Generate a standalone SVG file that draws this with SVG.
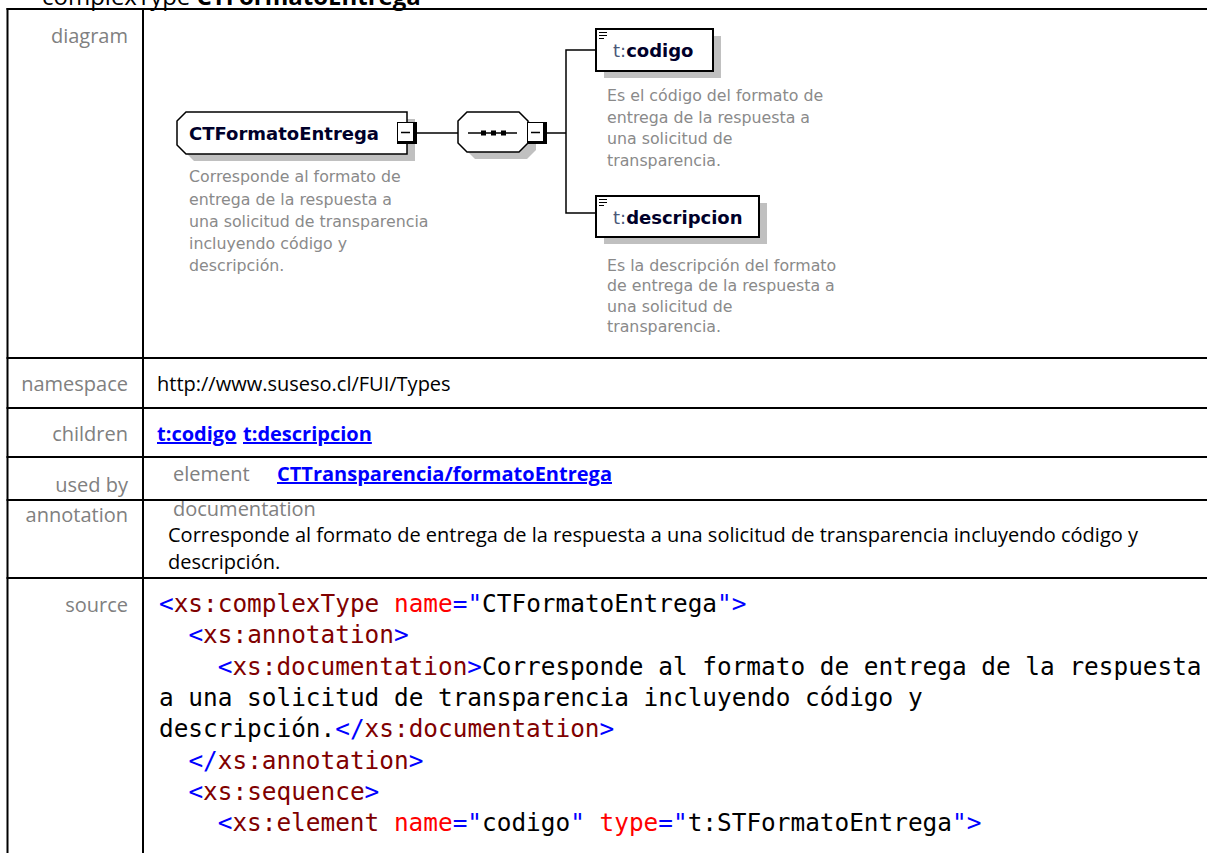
<svg xmlns="http://www.w3.org/2000/svg" width="1207" height="853" viewBox="0 0 1207 853">
<style>
.lbl{font-family:"Open Sans","Liberation Sans",sans-serif;font-size:20px;fill:#808080;text-anchor:end}
.val{font-family:"Open Sans","Liberation Sans",sans-serif;font-size:20px;fill:#000}
.sub{font-family:"Open Sans","Liberation Sans",sans-serif;font-size:20px;fill:#808080}
.lnk{font-family:"Open Sans","Liberation Sans",sans-serif;font-size:20px;font-weight:bold;fill:#0000ff;text-decoration:underline}
.grid{stroke:#000;stroke-width:2;fill:none}
.code{font-family:"DejaVu Sans Mono","Liberation Mono",monospace;font-size:24.4px;fill:#000}
.b{fill:#0000ff}.en{fill:#800000}.an{fill:#ff0000}
.nm{font-family:"DejaVu Sans",sans-serif;font-size:18px;font-weight:bold;fill:#00002a}
.pf{font-weight:normal;fill:#4b5878}
.doc{font-family:"DejaVu Sans",sans-serif;font-size:15.8px;fill:#8a8a8a}
.shadow{fill:#c0c0c0}
.box{fill:#fff;stroke:#000;stroke-width:1.5}
.ebox{fill:#fff;stroke:#000;stroke-width:2}
.conn{stroke:#000;stroke-width:1.5;fill:none}
.title{font-family:"Open Sans","Liberation Sans",sans-serif;font-size:24px;fill:#000}
</style>
<defs>
<g id="minus">
<rect x="0" y="0" width="20" height="22" fill="#000"/>
<rect x="1" y="1" width="15" height="18" fill="#fff"/>
<line x1="4" y1="10.5" x2="13" y2="10.5" stroke="#000" stroke-width="1.5"/>
</g>
<g id="elicon" stroke="#000" stroke-width="1">
<line x1="0" y1="0.5" x2="8" y2="0.5"/>
<line x1="0" y1="3.5" x2="8" y2="3.5"/>
<line x1="0" y1="6.5" x2="5" y2="6.5"/>
</g>
</defs>

<text class="title" x="42" y="5">complexType <tspan font-weight="bold">CTFormatoEntrega</tspan></text>

<g id="table">
<line class="grid" x1="6.5" y1="9" x2="1207" y2="9"/>
<line class="grid" x1="7.5" y1="8" x2="7.5" y2="853"/>
<line class="grid" x1="143" y1="8" x2="143" y2="853"/>
<line class="grid" x1="6.5" y1="358" x2="1207" y2="358"/>
<line class="grid" x1="6.5" y1="408" x2="1207" y2="408"/>
<line class="grid" x1="6.5" y1="457" x2="1207" y2="457"/>
<line class="grid" x1="6.5" y1="500" x2="1207" y2="500"/>
<line class="grid" x1="6.5" y1="578" x2="1207" y2="578"/>
</g>

<g id="labels">
<text class="lbl" x="128" y="43">diagram</text>
<text class="lbl" x="128" y="391">namespace</text>
<text class="lbl" x="128" y="441">children</text>
<text class="lbl" x="128" y="492">used by</text>
<text class="lbl" x="128" y="522">annotation</text>
<text class="lbl" x="128" y="612">source</text>
</g>

<g id="values">
<text class="val" x="157" y="391">http://www.suseso.cl/FUI/Types</text>
<text class="lnk" x="157" y="441">t:codigo</text>
<text class="lnk" x="243" y="441">t:descripcion</text>
<text class="sub" x="173" y="481">element</text>
<text class="lnk" x="277" y="481">CTTransparencia/formatoEntrega</text>
<text class="sub" x="173" y="516">documentation</text>
<text class="val" x="168" y="542">Corresponde al formato de entrega de la respuesta a una solicitud de transparencia incluyendo código y</text>
<text class="val" x="168" y="569">descripción.</text>
</g>

<g id="source">
<text class="code" x="159" y="612" xml:space="preserve"><tspan class="b">&lt;</tspan><tspan class="en">xs:complexType</tspan> <tspan class="an">name</tspan><tspan class="b">="</tspan>CTFormatoEntrega<tspan class="b">"&gt;</tspan></text>
<text class="code" x="188.4" y="643.3" xml:space="preserve"><tspan class="b">&lt;</tspan><tspan class="en">xs:annotation</tspan><tspan class="b">&gt;</tspan></text>
<text class="code" x="217.7" y="674.6" xml:space="preserve"><tspan class="b">&lt;</tspan><tspan class="en">xs:documentation</tspan><tspan class="b">&gt;</tspan>Corresponde al formato de entrega de la respuesta</text>
<text class="code" x="159" y="705.9" xml:space="preserve">a una solicitud de transparencia incluyendo código y</text>
<text class="code" x="159" y="737.2" xml:space="preserve">descripción.<tspan class="b">&lt;/</tspan><tspan class="en">xs:documentation</tspan><tspan class="b">&gt;</tspan></text>
<text class="code" x="188.4" y="768.5" xml:space="preserve"><tspan class="b">&lt;/</tspan><tspan class="en">xs:annotation</tspan><tspan class="b">&gt;</tspan></text>
<text class="code" x="188.4" y="799.8" xml:space="preserve"><tspan class="b">&lt;</tspan><tspan class="en">xs:sequence</tspan><tspan class="b">&gt;</tspan></text>
<text class="code" x="217.7" y="831.1" xml:space="preserve"><tspan class="b">&lt;</tspan><tspan class="en">xs:element</tspan> <tspan class="an">name</tspan><tspan class="b">="</tspan>codigo<tspan class="b">"</tspan> <tspan class="an">type</tspan><tspan class="b">="</tspan>t:STFormatoEntrega<tspan class="b">"&gt;</tspan></text>
</g>

<g id="connectors">
<line class="conn" x1="417" y1="133" x2="458" y2="133"/>
<line class="conn" x1="547" y1="133" x2="566" y2="133"/>
<polyline class="conn" points="596,50 566,50 566,213 596,213"/>
</g>

<g id="node-CTFormatoEntrega">
<path class="shadow" d="M185,128 L194,119 L415,119 L415,161 L194,161 L185,152 Z"/>
<path class="box" d="M177,121 L186,112 L407,112 L407,154 L186,154 L177,145 Z"/>
<text class="nm" x="189" y="140">CTFormatoEntrega</text>
<use href="#minus" x="397" y="122"/>
<text class="doc" x="189" y="182">Corresponde al formato de</text>
<text class="doc" x="189" y="204.5">entrega de la respuesta a</text>
<text class="doc" x="189" y="227">una solicitud de transparencia</text>
<text class="doc" x="189" y="249">incluyendo código y</text>
<text class="doc" x="189" y="271">descripción.</text>
</g>

<g id="node-sequence">
<path class="shadow" d="M466,128 L475,119 L527,119 L536,128 L536,150 L527,159 L475,159 L466,150 Z"/>
<path class="box" d="M458,121 L467,112 L519,112 L528,121 L528,143 L519,152 L467,152 L458,143 Z"/>
<line x1="468" y1="133" x2="517" y2="133" stroke="#000" stroke-width="1.5"/>
<rect x="481" y="130.5" width="5" height="5" fill="#000"/>
<rect x="491" y="130.5" width="5" height="5" fill="#000"/>
<rect x="501" y="130.5" width="5" height="5" fill="#000"/>
<use href="#minus" x="527" y="122"/>
</g>

<g id="node-codigo">
<rect class="shadow" x="604" y="36" width="117" height="42"/>
<rect class="ebox" x="596" y="29" width="117" height="42"/>
<use href="#elicon" x="599" y="32"/>
<text class="nm" x="613" y="57"><tspan class="pf">t:</tspan>codigo</text>
<text class="doc" x="607" y="101">Es el código del formato de</text>
<text class="doc" x="607" y="122.5">entrega de la respuesta a</text>
<text class="doc" x="607" y="144">una solicitud de</text>
<text class="doc" x="607" y="165.5">transparencia.</text>
</g>

<g id="node-descripcion">
<rect class="shadow" x="604" y="203" width="163" height="41"/>
<rect class="ebox" x="596" y="196" width="163" height="41"/>
<use href="#elicon" x="599" y="199"/>
<text class="nm" x="613" y="224"><tspan class="pf">t:</tspan>descripcion</text>
<text class="doc" x="607" y="270.5">Es la descripción del formato</text>
<text class="doc" x="607" y="291">de entrega de la respuesta a</text>
<text class="doc" x="607" y="311.5">una solicitud de</text>
<text class="doc" x="607" y="332">transparencia.</text>
</g>
</svg>
